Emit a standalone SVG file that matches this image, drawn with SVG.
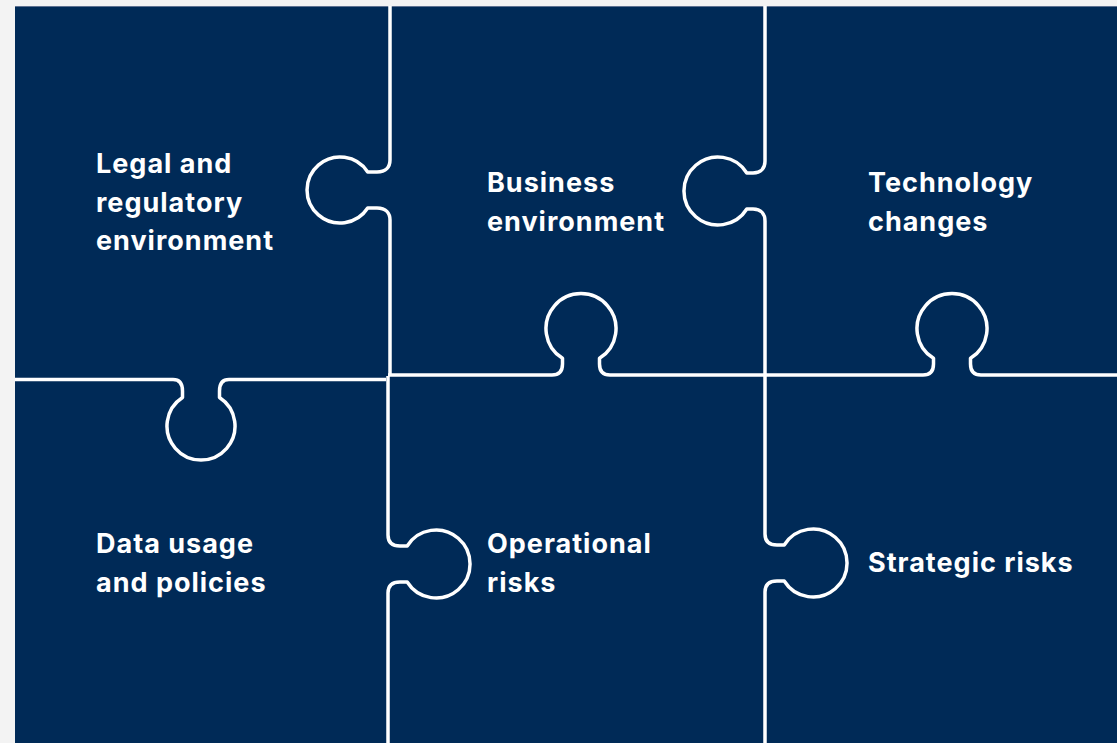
<svg xmlns="http://www.w3.org/2000/svg" width="1117" height="743" viewBox="0 0 1117 743">
  <style>
    .cut { fill: none; stroke: #ffffff; stroke-width: 3.5; stroke-linejoin: round; stroke-linecap: butt; }
    .label { font-family: Inter, "Liberation Sans", Arial, sans-serif; font-weight: 700; font-size: 27px; letter-spacing: 1px; fill: #ffffff; }
  </style>
  <!-- page -->
  <rect x="0" y="0" width="1117" height="743" fill="#f3f3f3"/>
  <!-- puzzle board -->
  <rect x="15" y="6" width="1102" height="737" fill="#002a57"/>
  <line x1="15" y1="6.5" x2="1117" y2="6.5" stroke="#5d7191" stroke-width="1"/>

  <!-- cut lines between the pieces -->
  <g id="connectors">
    <!-- top row, left/middle seam: knob points left -->
    <path class="cut" d="M390,6 V160 C390,167 386,172 377,172 L367.7,172 A33,33 0 1 0 367.7,208 L377,208 C386,208 390,213 390,220 V376"/>
    <!-- top row, middle/right seam: knob points left -->
    <path class="cut" d="M765,6 V161 C765,168 761,173 753,173 L746.8,173 A34,34 0 1 0 746.8,209 L753,209 C761,209 765,214 765,221 V375"/>
    <!-- left column horizontal seam: knob points down -->
    <path class="cut" d="M15,379.5 H173 C180,379.5 182.5,384 182.5,391 L182.5,397.5 A34,34 0 1 0 219.5,397.5 L219.5,391 C219.5,384 222,379.5 229,379.5 H386"/>
    <!-- middle and right columns horizontal seam: knobs point up -->
    <path class="cut" d="M388,375 H552 C559,375 562.5,371 562.5,364 L562.5,358.3 A35,35 0 1 1 599.5,358.3 L599.5,364 C599.5,371 603,375 610,375 H923 C930,375 933.5,371 933.5,364 L933.5,358.3 A35,35 0 1 1 970.5,358.3 L970.5,364 C970.5,371 974,375 981,375 H1117"/>
    <!-- bottom row, left/middle seam: knob points right -->
    <path class="cut" d="M388,376 V535 C388,542 392,546 400,546 L407.2,546 A34,34 0 1 1 407.2,582 L400,582 C392,582 388,586 388,593 V743"/>
    <!-- bottom row, middle/right seam: knob points right -->
    <path class="cut" d="M765,375 V534 C765,541 769,545 777,545 L784.2,545 A34,34 0 1 1 784.2,581 L777,581 C769,581 765,585 765,592 V743"/>
  </g>

  <g id="legal">
    <text class="label" x="96" y="173">Legal and</text>
    <text class="label" x="96" y="211.5">regulatory</text>
    <text class="label" x="96" y="250">environment</text>
  </g>
  <g id="business">
    <text class="label" x="487" y="192">Business</text>
    <text class="label" x="487" y="230.5">environment</text>
  </g>
  <g id="technology">
    <text class="label" x="868" y="192">Technology</text>
    <text class="label" x="868" y="230.5">changes</text>
  </g>
  <g id="data">
    <text class="label" x="96" y="553">Data usage</text>
    <text class="label" x="96" y="591.5">and policies</text>
  </g>
  <g id="operational">
    <text class="label" x="487" y="553">Operational</text>
    <text class="label" x="487" y="591.5">risks</text>
  </g>
  <g id="strategic">
    <text class="label" x="868" y="572">Strategic risks</text>
  </g>
</svg>
